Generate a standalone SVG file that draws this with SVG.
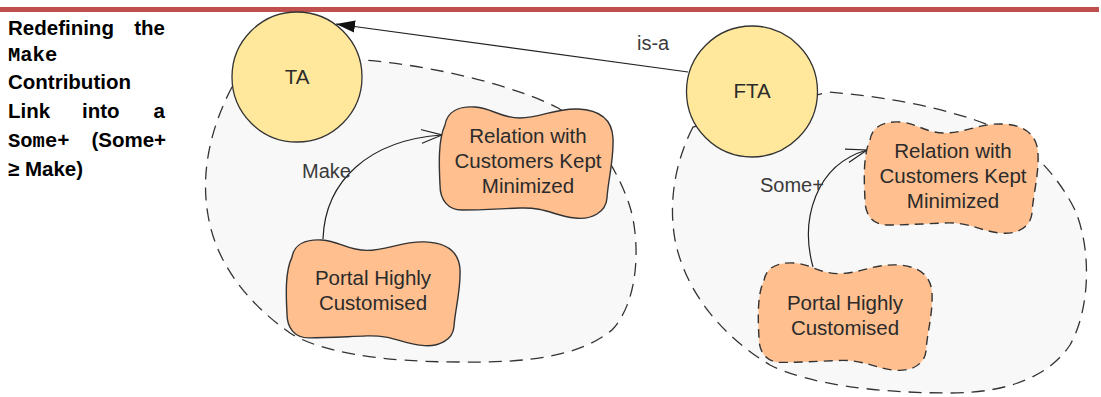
<svg xmlns="http://www.w3.org/2000/svg" width="1101" height="397" viewBox="0 0 1101 397">
<style>
.title{font-family:"Liberation Sans",Arial,sans-serif;font-weight:bold;font-size:20.5px;fill:#000}
.mono{font-family:"Liberation Mono","Courier New",monospace;font-weight:bold;font-size:20.5px;fill:#000}
.lbl{font-family:"Liberation Sans",Arial,sans-serif;font-size:20px;fill:#3a3a3a}
.ntxt{font-family:"Liberation Sans",Arial,sans-serif;font-size:20.5px;fill:#2b2b2b;text-anchor:middle}
.blob{fill:#f8f8f8;stroke:#333;stroke-width:1.3;stroke-dasharray:13 8}
.actor{fill:#ffe89b;stroke:#333;stroke-width:1.3}
.goal{fill:#ffbf8f;stroke:#333;stroke-width:1.4}
.goal.dash{stroke-dasharray:9 6}
.link{fill:none;stroke:#222;stroke-width:1.2}
</style>
<defs>
<path id="soft" d="M7,18 C9,5 20,-1 37,0 C54,1 62,11 82,11 C102,11 117,1 140,2 C162,3 174,13 175,31 C176,53 170,73 169,91 C168,105 154,113 137,111 C117,109 107,100 82,101 C57,102 42,103 24,103 C10,103 2,93 2,78 C1,58 0,33 7,18 Z"/>
<marker id="filled" markerWidth="20" markerHeight="14" refX="19" refY="7" orient="auto" markerUnits="userSpaceOnUse">
<path d="M0,1 L19,7 L0,13 Z" fill="#111"/>
</marker>
<marker id="open" markerWidth="22" markerHeight="16" refX="21" refY="8" orient="auto" markerUnits="userSpaceOnUse">
<path d="M0,1 L21,8 L0,15" fill="none" stroke="#222" stroke-width="1.2"/>
</marker>
</defs>
<rect x="0" y="7" width="1099" height="5" fill="#c0504d"/>
<g id="title">
<text class="title" x="8" y="35">Redefining</text>
<text class="title" x="165" y="35" text-anchor="end">the</text>
<text class="mono" x="8" y="61">Make</text>
<text class="title" x="8" y="89">Contribution</text>
<text class="title" x="8" y="118">Link</text>
<text class="title" x="82" y="118">into</text>
<text class="title" x="165" y="118" text-anchor="end">a</text>
<text class="mono" x="8" y="147">Some+</text>
<text class="title" x="166" y="147" text-anchor="end">(Some+</text>
<text class="title" x="8" y="176">≥ Make)</text>
</g>
<g id="boundary-ta">
<path class="blob" d="M232,87 C212,125 200,170 208,215 C216,265 250,305 290,333 C320,352 380,362 460,362 C530,363 580,356 612,330 C640,300 640,240 630,207 C620,175 595,130 558,108 C520,88 440,66 363,60 Z"/>
</g>
<g id="boundary-fta">
<path class="blob" d="M693,127 C676,160 668,200 675,240 C685,290 720,335 770,365 C810,385 880,393 950,393 C1010,393 1050,375 1070,345 C1090,310 1092,250 1075,210 C1055,170 1020,135 975,120 C930,105 880,96 828,92 Z"/>
</g>
<g id="connectors">
<path class="link" d="M688,72 L336,24" marker-end="url(#filled)"/>
<path class="link" d="M323,239 C325,180 370,140 442,135" marker-end="url(#open)"/>
<path class="link" d="M813,267 C800,220 815,165 867,150" marker-end="url(#open)"/>
<text class="lbl" x="637" y="50">is-a</text>
<text class="lbl" x="302" y="178">Make</text>
<text class="lbl" x="760" y="192">Some+</text>
</g>
<g id="TA">
<circle class="actor" cx="297" cy="77" r="65"/>
<text class="ntxt" x="297" y="84">TA</text>
</g>
<g id="FTA">
<circle class="actor" cx="752" cy="91.5" r="65.5"/>
<text class="ntxt" x="752" y="98">FTA</text>
</g>
<g id="relation-ta">
<use href="#soft" class="goal" transform="translate(438,107)"/>
<text class="ntxt" x="528" y="143">Relation with</text>
<text class="ntxt" x="528" y="168">Customers Kept</text>
<text class="ntxt" x="528" y="193">Minimized</text>
</g>
<g id="portal-ta">
<use href="#soft" class="goal" transform="translate(285,240) scale(1,0.95)"/>
<text class="ntxt" x="373" y="285">Portal Highly</text>
<text class="ntxt" x="373" y="310">Customised</text>
</g>
<g id="relation-fta">
<use href="#soft" class="goal dash" transform="translate(863,122)"/>
<text class="ntxt" x="953" y="158">Relation with</text>
<text class="ntxt" x="953" y="183">Customers Kept</text>
<text class="ntxt" x="953" y="208">Minimized</text>
</g>
<g id="portal-fta">
<use href="#soft" class="goal dash" transform="translate(757,263) scale(1,0.965)"/>
<text class="ntxt" x="845" y="310">Portal Highly</text>
<text class="ntxt" x="845" y="335">Customised</text>
</g>
</svg>
